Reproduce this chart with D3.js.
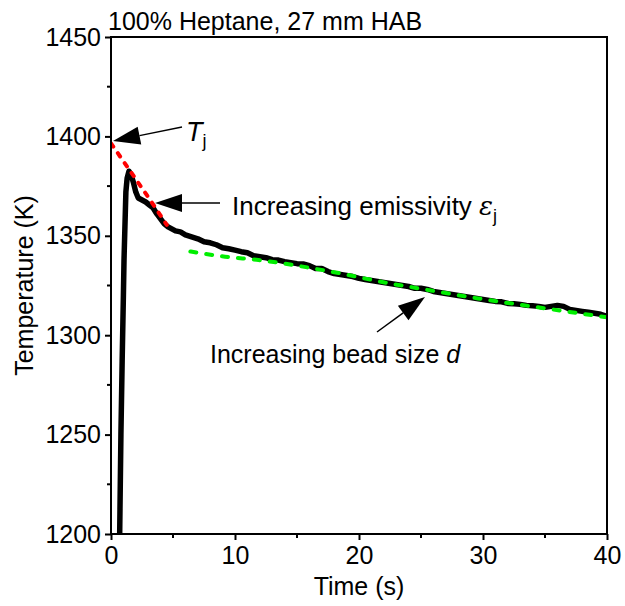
<!DOCTYPE html>
<html>
<head>
<meta charset="utf-8">
<script src="https://cdn.jsdelivr.net/npm/d3@7"></script>
<style>
  body { margin: 0; background: #fff; }
  svg { font-family: "Liberation Sans", Arial, sans-serif; }
</style>
</head>
<body>
<div id="chart"></div>
<script>
// Courbe mesurée (noire)
const tempsMesure = [0.70, 0.80, 0.90, 1.00, 1.05, 1.20, 1.30, 1.45, 1.60, 1.80, 2.00, 2.20, 2.50, 2.80, 3.10, 3.40, 3.70, 4.00, 4.30, 4.60, 4.90, 5.20, 5.60, 6.00, 6.50, 7.00, 7.50, 8.00, 8.50, 9.00, 9.50, 10.0, 10.5, 11.0, 11.5, 12.0, 12.5, 13.0, 13.5, 14.0, 14.5, 15.0, 15.5, 16.0, 16.5, 17.0, 17.5, 18.0, 18.5, 19.0, 19.5, 20.0, 20.5, 21.0, 21.5, 22.0, 22.5, 23.0, 23.5, 24.0, 24.5, 25.0, 25.5, 26.0, 26.5, 27.0, 27.5, 28.0, 28.5, 29.0, 29.5, 30.0, 30.5, 31.0, 31.5, 32.0, 32.5, 33.0, 33.5, 34.0, 34.5, 35.0, 35.5, 36.0, 36.5, 37.0, 37.5, 38.0, 38.5, 39.0, 39.5, 40.0];
const tempMesure = [1200, 1250, 1287, 1320, 1338, 1372, 1379, 1382.5, 1381, 1377, 1372, 1369, 1368, 1367, 1365.5, 1364, 1361, 1358.5, 1356, 1354.5, 1353.5, 1352.5, 1352, 1350.5, 1349.5, 1348.5, 1347, 1346.5, 1345.5, 1344, 1343.5, 1342.8, 1342, 1341.5, 1340, 1339.5, 1339, 1338, 1337.8, 1337, 1336.5, 1336, 1335.8, 1335, 1333.5, 1333.5, 1332, 1331, 1330.5, 1330, 1329.5, 1328.6, 1328, 1327.5, 1327, 1326.5, 1326, 1325.5, 1325, 1324.5, 1323.6, 1323.6, 1323, 1322, 1321.5, 1321, 1320.5, 1320, 1319.5, 1319, 1318.5, 1318, 1317.5, 1317, 1316.8, 1316, 1315.8, 1315.5, 1315, 1314.8, 1314.5, 1314, 1314.5, 1315, 1314.5, 1313, 1312.5, 1312, 1311.5, 1311, 1310.5, 1309.5];

// Ajustement émissivité (rouge)
const tempsRouge = [0, 1.5, 3.3, 4.5];
const tempRouge = [1396.5, 1383, 1366.7, 1355.5];

// Ajustement taille de bille (vert)
const tempsVert = [6.4, 9.2, 11.9, 17.3, 22.7, 24.2, 29.6, 35, 40];
const tempVert = [1342.1, 1339.5, 1337.8, 1332.5, 1325.8, 1324.2, 1318.5, 1313.5, 1309];

const ticksX = [0, 10, 20, 30, 40];
const ticksY = [1200, 1250, 1300, 1350, 1400, 1450];

const width = 625, height = 606;
const margin = { top: 37, right: 18, bottom: 72, left: 111 };

const svg = d3.select("#chart").append("svg")
    .attr("width", width).attr("height", height);

const x = d3.scaleLinear().domain([0, 40]).range([margin.left, width - margin.right]);
const y = d3.scaleLinear().domain([1200, 1450]).range([height - margin.bottom, margin.top]);

svg.append("defs").append("clipPath").attr("id", "clip")
  .append("rect")
    .attr("x", x(0)).attr("y", y(1450))
    .attr("width", x(40) - x(0)).attr("height", y(1200) - y(1450));

const toPts = (ts, vs) => ts.map((t, i) => [t, vs[i]]);
const line = d3.line().x(d => x(d[0])).y(d => y(d[1]));

const plot = svg.append("g").attr("clip-path", "url(#clip)");

// Courbe noire
plot.append("path")
    .datum(toPts(tempsMesure, tempMesure))
    .attr("d", line)
    .attr("fill", "none").attr("stroke", "#000")
    .attr("stroke-width", 5.5).attr("stroke-linejoin", "round");

// Pointillés rouges
plot.append("path")
    .datum(toPts(tempsRouge, tempRouge))
    .attr("d", d3.line().x(d => x(d[0])).y(d => y(d[1])).curve(d3.curveMonotoneX))
    .attr("fill", "none").attr("stroke", "#ff0000")
    .attr("stroke-width", 4).attr("stroke-dasharray", "4,8")
    .attr("stroke-linecap", "round");

// Tirets verts
plot.append("path")
    .datum(toPts(tempsVert, tempVert))
    .attr("d", d3.line().x(d => x(d[0])).y(d => y(d[1])).curve(d3.curveMonotoneX))
    .attr("fill", "none").attr("stroke", "#00ee00")
    .attr("stroke-width", 4).attr("stroke-dasharray", "6,10")
    .attr("stroke-linecap", "round");

// Axes
const xAxis = d3.axisBottom(x).tickValues(ticksX).tickSize(6).tickPadding(6).tickFormat(d3.format("d"));
const yAxis = d3.axisLeft(y).tickValues(ticksY).tickSize(6).tickPadding(4).tickFormat(d3.format("d"));

const gx = svg.append("g").attr("transform", `translate(0,${y(1200)})`).call(xAxis);
const gy = svg.append("g").attr("transform", `translate(${x(0)},0)`).call(yAxis);

[gx, gy].forEach(g => {
  g.select(".domain").remove();
  g.selectAll(".tick line").attr("stroke", "#000").attr("stroke-width", 2);
  g.selectAll(".tick text").attr("fill", "#000").style("font-size", "25px");
});

// Petites graduations
svg.append("g").selectAll("line").data([5, 15, 25, 35]).enter().append("line")
    .attr("x1", d => x(d)).attr("x2", d => x(d))
    .attr("y1", y(1200)).attr("y2", y(1200) + 4)
    .attr("stroke", "#000").attr("stroke-width", 2);
svg.append("g").selectAll("line").data([1225, 1275, 1325, 1375, 1425]).enter().append("line")
    .attr("x1", x(0)).attr("x2", x(0) - 4)
    .attr("y1", d => y(d)).attr("y2", d => y(d))
    .attr("stroke", "#000").attr("stroke-width", 2);

// Cadre
svg.append("rect")
    .attr("x", x(0)).attr("y", y(1450))
    .attr("width", x(40) - x(0)).attr("height", y(1200) - y(1450))
    .attr("fill", "none").attr("stroke", "#000").attr("stroke-width", 2);

// Titres
svg.append("text")
    .attr("x", (x(0) + x(40)) / 2).attr("y", 595)
    .attr("text-anchor", "middle").style("font-size", "25px")
    .text("Time (s)");

svg.append("text")
    .attr("transform", `translate(33,${(y(1200) + y(1450)) / 2}) rotate(-90)`)
    .attr("text-anchor", "middle").style("font-size", "25px")
    .text("Temperature (K)");

svg.append("text")
    .attr("x", 108).attr("y", 30)
    .style("font-size", "25px")
    .text("100% Heptane, 27 mm HAB");

// Flèches d'annotation
const arrow = (x1, y1, x2, y2) => {
  const ang = Math.atan2(y2 - y1, x2 - x1);
  const L = 27, W = 9;
  const bx = x2 - L * Math.cos(ang), by = y2 - L * Math.sin(ang);
  svg.append("line")
      .attr("x1", x1).attr("y1", y1).attr("x2", bx).attr("y2", by)
      .attr("stroke", "#000").attr("stroke-width", 1.5);
  svg.append("path")
      .attr("d", `M${x2},${y2} L${bx - W * Math.sin(ang)},${by + W * Math.cos(ang)} L${bx + W * Math.sin(ang)},${by - W * Math.cos(ang)} Z`)
      .attr("fill", "#000");
};

arrow(182, 127, x(0) + 2, 141);
arrow(220, 203, 155, 203);
arrow(377, 332, 425, 297);

const tj = svg.append("text").attr("x", 186).attr("y", 141).style("font-size", "27px");
tj.append("tspan").style("font-style", "italic").text("T");
tj.append("tspan").attr("dy", 6).style("font-size", "18px").text("j");

const em = svg.append("text").attr("x", 232).attr("y", 215).style("font-size", "26px");
em.append("tspan").text("Increasing emissivity ");
em.append("tspan").style("font-style", "italic").attr("font-family", "DejaVu Serif").text("ε");
em.append("tspan").attr("dy", 7).style("font-size", "18px").text("j");

const bd = svg.append("text").attr("x", 210).attr("y", 363).style("font-size", "25px");
bd.append("tspan").text("Increasing bead size ");
bd.append("tspan").style("font-style", "italic").text("d");
</script>
</body>
</html>
